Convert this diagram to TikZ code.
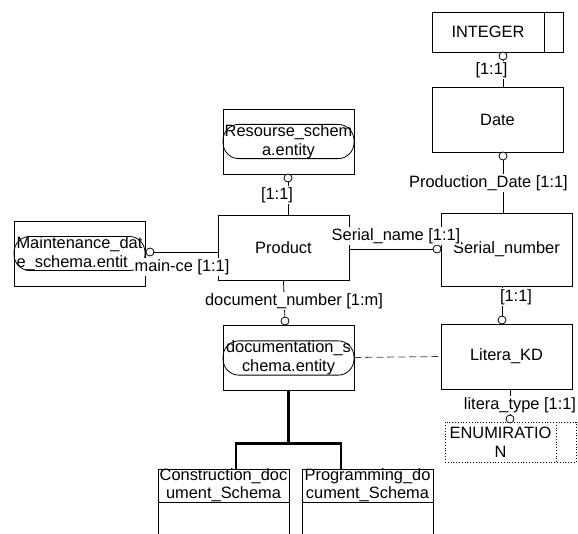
\documentclass[tikz,border=0pt]{standalone}
\usepackage{fontspec}
\setmainfont{Liberation Sans}
\usetikzlibrary{positioning}

\tikzset{
  entity/.style={draw,line width=0.9pt,minimum width=131pt,minimum height=65pt,inner sep=0pt},
  schema/.style={draw,line width=0.8pt,rounded corners=16pt,minimum width=131pt,minimum height=33pt,inner sep=0pt,align=center},
  knot/.style={draw,circle,fill=white,line width=0.8pt,minimum size=8pt,inner sep=0pt},
  rel/.style={fill=white,inner sep=1pt},
  gen/.style={line width=2.4pt},
}

\begin{document}
\begin{tikzpicture}[x=1pt,y=-1pt,font=\fontsize{16.4}{19}\selectfont,line width=0.8pt]
\clip (0,0) rectangle (578,533);

% entities
\node[entity,minimum height=40pt] (integer) at (497.5,32) {};
\draw (544,12) -- (544,52);
\node (intname) at (488,32) {INTEGER};
\node[entity] (date) at (497.5,120) {Date};
\node[entity,minimum height=73pt] (serial) at (506.5,249.5) {Serial\_number};
\node[entity] (litera) at (506.5,356.5) {Litera\_KD};
\node[entity] (product) at (283.5,248) {Product};

\node[draw,dotted,minimum width=131pt,minimum height=40pt,inner sep=0pt] (enum) at (510.5,442) {};
\draw[dotted] (556,422) -- (556,462);
\node[align=center] (enumname) at (500.5,442) {ENUMIRATIO\\N};

% schema entities
\node[entity] (resourse) at (288.5,141.5) {};
\node[schema] (resname) at (288.5,141.5) {Resourse\_schem\\a.entity};
\node[entity] (maint) at (79.5,253.5) {};
\node[schema,align=left] (maintname) at (79.5,253.5) {Maintenance\_dat\\e\_schema.entit};
\node[entity] (docu) at (288.5,357.5) {};
\node[schema] (docuname) at (288.5,358) {documentation\_s\\chema.entity};

% subtypes
\node[entity,minimum height=100pt] (constr) at (223.5,519) {};
\draw (constr.west |- 0,502) -- (constr.east |- 0,502);
\node[align=center,anchor=north,inner sep=0pt,font=\fontsize{16.4}{18}\selectfont] at ([yshift=0.5pt]constr.north) {Construction\_doc\\ument\_Schema};
\node[entity,minimum height=100pt] (progr) at (367.5,519) {};
\draw (progr.west |- 0,502) -- (progr.east |- 0,502);
\node[align=center,anchor=north,inner sep=0pt,font=\fontsize{16.4}{18}\selectfont] at ([yshift=0.5pt]progr.north) {Programming\_do\\cument\_Schema};

\coordinate (cleg) at (236,469);
\coordinate (pleg) at (341,469);
\draw[gen] (docu.south) -- ++(0,53) coordinate (fork);
\draw[gen] (cleg) |- (fork) -| (pleg);

% relations
\node[knot] (kint) at (503,56) {};
\draw (kint) -- (kint |- date.north);
\node[knot] (kdate) at (503,156) {};
\draw (kdate) -- (kdate |- serial.north);
\node[knot] (klit) at (502,320) {};
\draw (klit) -- (klit |- serial.south);
\node[knot] (kenum) at (510,419) {};
\draw (kenum) -- (kenum |- litera.south);
\node[knot] (kres) at (288,178) {};
\draw (kres) -- (kres |- product.north);
\node[knot] (kmaint) at (150,252) {};
\draw (kmaint) -- (kmaint -| product.west);
\node[knot] (kser) at (437,249) {};
\draw (product.east |- kser) -- (kser);
\node[knot] (kdoc) at (285,321) {};
\draw (kdoc) -- (product.south);
\draw[dash pattern=on 7pt off 4pt,black!75] (docu.east) -- (litera.west);

% labels
\node[rel] at (491.5,70) {[1:1]};
\node[rel] at (488.5,183) {Production\_Date [1:1]};
\node[rel] at (516,297) {[1:1]};
\node[rel] at (396,236) {Serial\_name [1:1]};
\node[rel] at (182,267) {main-ce [1:1]};
\node[rel] at (277,195) {[1:1]};
\node[rel] at (294,301) {document\_number [1:m]};
\node[rel] at (520,405) {litera\_type [1:1]};

\end{tikzpicture}
\end{document}
